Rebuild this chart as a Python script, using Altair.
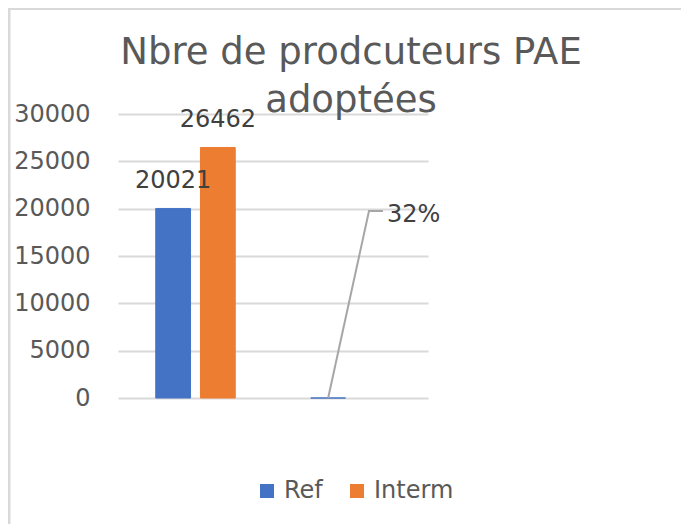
import altair as alt
import pandas as pd

# ---- data ----
categories = ["Nombre", "Taux"]
series = ["Ref", "Interm"]
ref_values = [20021, 0.32]
interm_values = [26462]
ref_labels = ["20021", "32%"]
interm_labels = ["26462"]
colors = ["#4472C4", "#ED7D31"]
y_ticks = [0, 5000, 10000, 15000, 20000, 25000, 30000]
title_lines = ["Nbre de prodcuteurs PAE", "adoptées"]

rows = []
for c, v, l in zip(categories, ref_values, ref_labels):
    rows.append({"category": c, "series": "Ref", "value": v, "label": l})
for c, v, l in zip(categories, interm_values, interm_labels):
    rows.append({"category": c, "series": "Interm", "value": v, "label": l})
df = pd.DataFrame(rows)

FONT = "DejaVu Sans"
W, H = 310, 284

x_enc = alt.X("category:N", sort=categories, axis=None,
              scale=alt.Scale(paddingInner=0, paddingOuter=0))
xo_enc = alt.XOffset("series:N", sort=series,
                     scale=alt.Scale(domain=series, paddingInner=0.222, paddingOuter=0.844))
y_enc = alt.Y("value:Q",
              scale=alt.Scale(domain=[0, 30000]),
              axis=alt.Axis(values=y_ticks, format="d", title=None, domain=False, ticks=False,
                            labelFont=FONT, labelFontSize=24, labelColor="#595959",
                            labelPadding=28, grid=True, gridColor="#d9d9d9",
                            gridWidth=2))

base = alt.Chart(df)

bars = base.mark_bar(strokeWidth=1).encode(
    x=x_enc, xOffset=xo_enc, y=y_enc,
    color=alt.Color("series:N", sort=series,
                    scale=alt.Scale(domain=series, range=colors),
                    legend=alt.Legend(title=None, orient="none", legendX=137, legendY=365,
                                      direction="horizontal", symbolType="square",
                                      symbolSize=196, symbolStrokeWidth=0,
                                      labelFont=FONT, labelFontSize=24,
                                      labelColor="#595959", labelOffset=5,
                                      columnPadding=22, padding=0)),
    stroke=alt.Color("series:N", sort=series,
                     scale=alt.Scale(domain=series, range=colors), legend=None),
)

big_labels = base.transform_filter("datum.value >= 1000").mark_text(
    font=FONT, fontSize=24, color="#404040", baseline="alphabetic", dy=-20
).encode(x=x_enc, xOffset=xo_enc, y="value:Q", text="label:N")

small = base.transform_filter("datum.value < 1000")
leader = small.mark_rule(color="#a6a6a6", strokeWidth=2).encode(
    x=x_enc, xOffset=xo_enc, y="value:Q",
    x2=alt.value(251), y2=alt.value(97))
leader_h = small.mark_rule(color="#a6a6a6", strokeWidth=2).encode(
    x=alt.value(250), x2=alt.value(265), y=alt.value(97))
small_label = small.mark_text(
    font=FONT, fontSize=24, color="#404040", align="left", baseline="middle"
).encode(x=alt.value(269), y=alt.value(101), text="label:N")

frame_df = pd.DataFrame({"k": [0]})
frame_top = alt.Chart(frame_df).mark_rule(color="#d9d9d9", strokeWidth=2).encode(
    x=alt.value(-110), x2=alt.value(563), y=alt.value(-105))
frame_left = alt.Chart(frame_df).mark_rule(color="#d9d9d9", strokeWidth=3).encode(
    x=alt.value(-109), y=alt.value(-106), y2=alt.value(410))

chart = alt.layer(
    frame_top, frame_left, bars, big_labels, leader, leader_h, small_label
).properties(
    width=W, height=H,
    background="white",
    title=alt.TitleParams(text=title_lines, font=FONT, fontSize=37, fontWeight="normal",
                          color="#595959", anchor="middle", frame="group", dx=78,
                          lineHeight=48, offset=-113),
    autosize=alt.AutoSizeParams(type="none"),
    padding={"left": 110, "top": 106, "right": 253, "bottom": 126},
).configure_view(strokeWidth=0, stroke="transparent")

chart.save("out.html", embed_options={"renderer": "svg", "actions": False})
